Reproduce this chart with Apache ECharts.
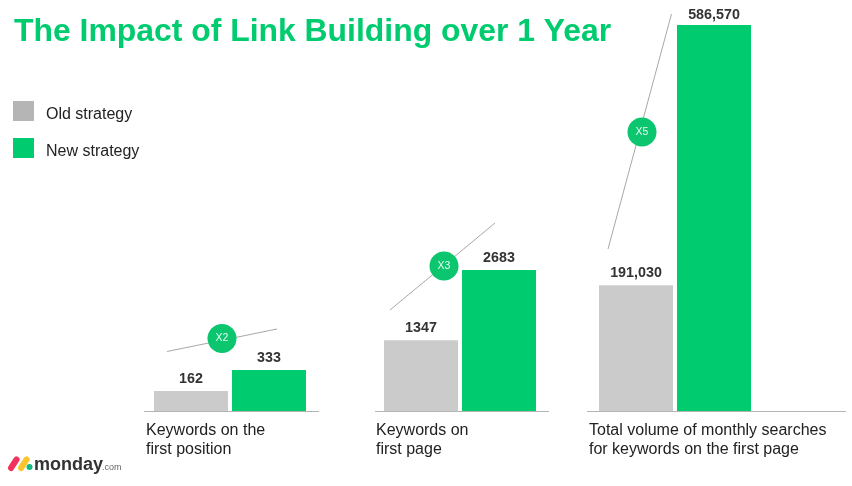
<!DOCTYPE html>
<html>
<head>
<meta charset="utf-8">
<style>
  html, body { margin: 0; padding: 0; background: #fff; }
  #main { width: 852px; height: 486px; }
</style>
<script src="https://cdn.jsdelivr.net/npm/echarts@6/dist/echarts.min.js"></script>
</head>
<body>
<div id="main"></div>
<script>
var categories = ["Keywords on the\nfirst position", "Keywords on\nfirst page", "Total volume of monthly searches\nfor keywords on the first page"];
var oldValues = [162, 1347, 191030];
var newValues = [333, 2683, 586570];
var multipliers = ["X2", "X3", "X5"];
// each panel has its own scale in the original
var axisMax = [3250, 7610, 607800];
var valueLabels = [
  ["162", "333"],
  ["1347", "2683"],
  ["191,030", "586,570"]
];

var FONT = '"Liberation Sans", Arial, sans-serif';
var GREEN = "#00cc6f";
var panelLeft = [154, 384, 599];
var baseLines = [[144, 319], [375, 549], [587, 846]];
var labelLeft = [146, 376, 589];
var slopes = [
  [167, 351.5, 277, 329, 222, 338.5],
  [390, 310, 495, 223, 444, 266],
  [608, 249, 671.5, 14, 642, 132]
];

var grids = [], xAxes = [], yAxes = [], series = [], graphics = [];

categories.forEach(function (name, i) {
  grids.push({ left: panelLeft[i], width: 152, top: 11, height: 400 });
  xAxes.push({
    type: "category", gridIndex: i, data: [name],
    axisLine: { show: false }, axisTick: { show: false }, axisLabel: { show: false }
  });
  yAxes.push({ type: "value", gridIndex: i, min: 0, max: axisMax[i], show: false });

  [["Old strategy", oldValues, "#cbcbcb"], ["New strategy", newValues, GREEN]].forEach(function (s, k) {
    series.push({
      name: s[0], type: "bar", xAxisIndex: i, yAxisIndex: i,
      barWidth: 74, barGap: "5.4%", silent: true,
      itemStyle: { color: s[2] },
      label: {
        show: true, position: "top", distance: (i === 2 && k === 1) ? 3 : 5,
        fontFamily: FONT, fontSize: 14.3, fontWeight: "bold", color: "#333",
        formatter: function () { return valueLabels[i][k]; }
      },
      data: [s[1][i]]
    });
  });

  // baseline
  graphics.push({
    type: "line", z: 5,
    shape: { x1: baseLines[i][0], y1: 411.5, x2: baseLines[i][1], y2: 411.5 },
    style: { stroke: "#b4b4b4", lineWidth: 1 }
  });
  // category text, left aligned under each group
  graphics.push({
    type: "text", x: labelLeft[i], y: 421,
    style: { text: name, font: "16px " + FONT, fill: "#222", lineHeight: 19 }
  });
  // growth line and badge
  var p = slopes[i];
  graphics.push({
    type: "line", z: 5,
    shape: { x1: p[0], y1: p[1], x2: p[2], y2: p[3] },
    style: { stroke: "#a8a8a8", lineWidth: 1 }
  });
  graphics.push({
    type: "circle", z: 6,
    shape: { cx: p[4], cy: p[5], r: 14.5 },
    style: { fill: "#0cc56f" }
  });
  graphics.push({
    type: "text", z: 7, x: p[4], y: p[5],
    style: { text: multipliers[i], font: "10.5px " + FONT, fill: "#e8fff3", align: "center", verticalAlign: "middle" }
  });
});

// monday.com logo
graphics.push(
  { type: "line", shape: { x1: 11, y1: 468, x2: 16.5, y2: 459.5 }, style: { stroke: "#f2315d", lineWidth: 6, lineCap: "round" } },
  { type: "line", shape: { x1: 21, y1: 468, x2: 26.5, y2: 459.5 }, style: { stroke: "#fdc52d", lineWidth: 6, lineCap: "round" } },
  { type: "circle", shape: { cx: 29.5, cy: 467, r: 3 }, style: { fill: "#12b981" } },
  { type: "text", x: 34, y: 465, style: { text: "monday", font: "bold 18px " + FONT, fill: "#333", verticalAlign: "middle" } },
  { type: "text", x: 102, y: 468, style: { text: ".com", font: "9px " + FONT, fill: "#666", verticalAlign: "middle" } }
);

var chart = echarts.init(document.getElementById("main"), null, { renderer: "canvas" });
chart.setOption({
  animation: false,
  backgroundColor: "#fff",
  title: {
    text: "The Impact of Link Building over 1 Year",
    left: 14, top: 16, padding: 0,
    textStyle: { fontFamily: FONT, fontSize: 31.9, fontWeight: "bold", color: GREEN }
  },
  legend: {
    orient: "vertical", left: 13, top: 101, padding: 0,
    itemWidth: 21, itemHeight: 20, itemGap: 15, selectedMode: false,
    formatter: "{a|{name}}",
    textStyle: {
      rich: { a: { fontFamily: FONT, fontSize: 16, color: "#222", padding: [8, 0, 0, 7] } }
    },
    data: [
      { name: "Old strategy", icon: "rect", itemStyle: { color: "#b5b5b5" } },
      { name: "New strategy", icon: "rect" }
    ]
  },
  grid: grids,
  xAxis: xAxes,
  yAxis: yAxes,
  series: series,
  graphic: graphics
});
</script>
</body>
</html>
